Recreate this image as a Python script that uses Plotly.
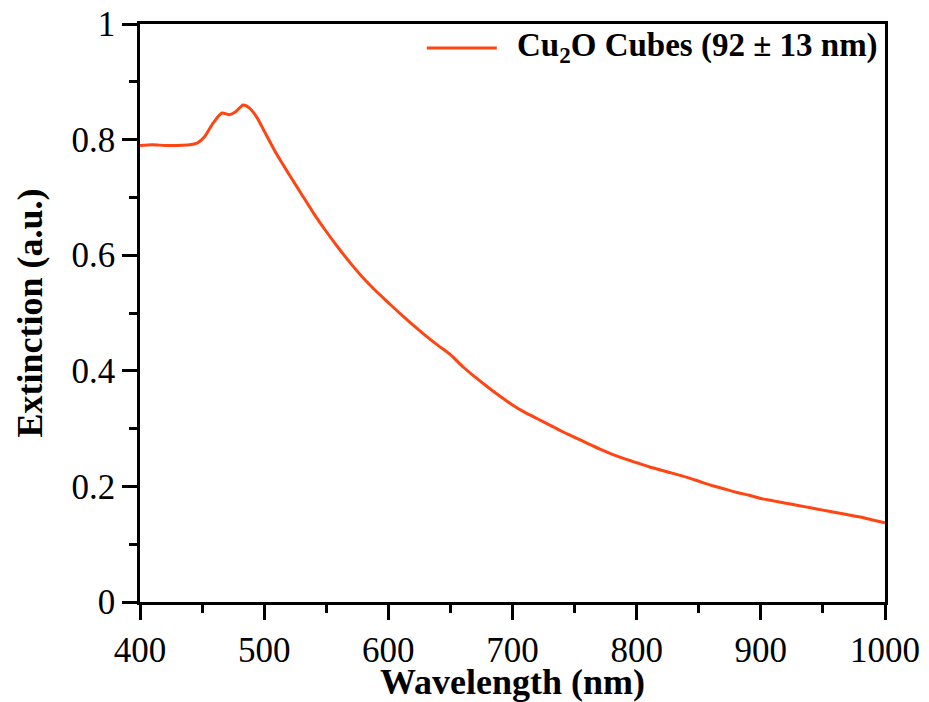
import plotly.graph_objects as go

wavelength = [400, 410, 420, 430, 440, 446, 452, 459, 466, 472, 477, 483, 488, 494,
              500, 510, 520, 530, 540, 550, 560, 570, 580, 590, 600, 610, 620, 630,
              640, 650, 660, 670, 680, 690, 700, 710, 720, 730, 740, 750, 760, 770,
              780, 790, 800, 810, 820, 830, 840, 850, 860, 870, 880, 890, 900, 910,
              920, 930, 940, 950, 960, 970, 980, 990, 1000]
extinction = [0.790, 0.791, 0.790, 0.790, 0.791, 0.794, 0.805, 0.829, 0.846, 0.843, 0.848, 0.860, 0.855, 0.839,
              0.815, 0.775, 0.740, 0.706, 0.672, 0.641, 0.612, 0.585, 0.560, 0.538, 0.518, 0.498, 0.479, 0.461,
              0.444, 0.428, 0.407, 0.389, 0.372, 0.356, 0.341, 0.328, 0.317, 0.306, 0.295, 0.285, 0.275, 0.265,
              0.256, 0.248, 0.241, 0.234, 0.228, 0.222, 0.216, 0.209, 0.202, 0.196, 0.190, 0.185, 0.179, 0.175,
              0.171, 0.167, 0.163, 0.159, 0.155, 0.151, 0.147, 0.142, 0.137]
series_name = "<b>Cu<sub>2</sub>O Cubes (92 ± 13 nm)</b>"
line_color = "#FF4512"

fig = go.Figure()
fig.add_trace(go.Scatter(x=wavelength, y=extinction, mode="lines", name=series_name,
                         showlegend=False,
                         line=dict(color=line_color, width=3, shape="spline", smoothing=0.6)))

FF = "Liberation Serif"


def axis_style():
    return dict(showline=True, linecolor="black", linewidth=2.5, mirror=True,
                ticks="outside", ticklen=15, tickwidth=2.5, tickcolor="black",
                showgrid=False, zeroline=False, automargin=False,
                tickfont=dict(family=FF, size=35, color="black"))


fig.update_layout(
    width=929, height=702,
    margin=dict(l=140, r=44, t=24, b=100),
    paper_bgcolor="white", plot_bgcolor="white",
    font=dict(family=FF, color="black"),
    xaxis=dict(range=[400, 1000], dtick=100, tick0=400,
               minor=dict(dtick=50, ticklen=8, tickwidth=2.5, tickcolor="black", ticks="outside"),
               title=dict(text="<b>Wavelength (nm)</b>", font=dict(family=FF, size=36, color="black"), standoff=0),
               **axis_style()),
    yaxis=dict(range=[0, 1], dtick=0.2, tick0=0,
               minor=dict(dtick=0.1, ticklen=8, tickwidth=2.5, tickcolor="black", ticks="outside"),
               title=dict(text="<b>Extinction (a.u.)</b>", font=dict(family=FF, size=36, color="black"), standoff=18),
               **axis_style()),
    showlegend=False,
)

# legend sample (line + label)
fig.add_shape(type="line", xref="paper", yref="paper", x0=0.385, x1=0.479, y0=0.9585, y1=0.9585,
              line=dict(color=line_color, width=3))
fig.add_annotation(xref="paper", yref="paper", x=0.503, y=0.9585, xanchor="left", yanchor="middle",
                   text=series_name, showarrow=False,
                   font=dict(family=FF, size=33, color="black"))

fig.write_html("out.html")
